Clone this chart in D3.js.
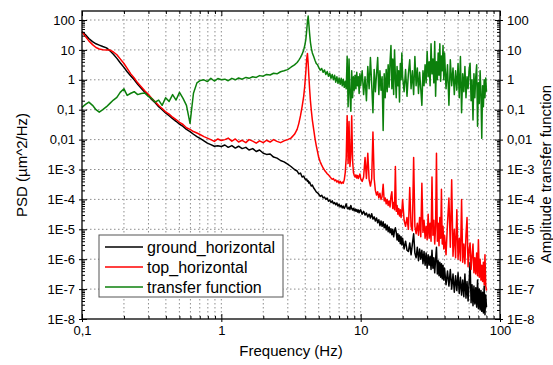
<!DOCTYPE html>
<html>
<head>
<meta charset="utf-8">
<script src="https://cdn.jsdelivr.net/npm/d3@7"></script>
<style>
  body { margin: 0; background: #fff; }
  text { font-family: "Liberation Sans", Arial, sans-serif; }
</style>
</head>
<body>
<svg id="chart" width="553" height="365"></svg>
<script>
// frequency grid (Hz), shared by the three curves
const freq = [
  0.1,0.106,0.112,0.119,0.126,0.133,0.141,0.15,0.158,0.168,
  0.178,0.188,0.2,0.211,0.224,0.237,0.251,0.266,0.282,0.299,
  0.316,0.335,0.355,0.376,0.398,0.422,0.447,0.473,0.501,0.531,
  0.562,0.596,0.631,0.668,0.708,0.75,0.794,0.841,0.891,0.944,
  1.0,
  1.06,1.12,1.19,1.26,1.33,1.41,1.5,1.58,1.68,1.78,
  1.88,2.0,2.11,2.24,2.37,2.51,2.66,2.82,2.99,3.16,
  3.35,3.5,3.6,3.7,3.8,3.9,3.97,4.04,4.1,4.15,
  4.2,4.25,4.3,4.36,4.43,4.5,4.6,4.7,4.8,4.9,
  5,5.125,5.25,5.375,5.5,5.625,5.75,5.875,6,6.125,
  6.25,6.375,6.5,6.625,6.75,6.875,7,7.125,7.25,7.375,
  7.5,7.625,7.75,7.875,8,8.125,8.25,8.375,8.5,8.625,
  8.75,8.875,9,9.125,9.25,9.375,9.5,9.625,9.75,9.875,
  10,10.25,10.5,10.75,11,11.25,11.5,11.75,12,12.25,
  12.5,12.75,13,13.25,13.5,13.75,14,14.25,14.5,14.75,
  15,15.25,15.5,15.75,16,16.25,16.5,16.75,17,17.25,
  17.5,17.75,18,18.25,18.5,18.75,19,19.25,19.5,19.75,
  20,20.5,21,21.5,22,22.5,23,23.5,24,24.5,
  25,25.5,26,26.5,27,27.5,28,28.5,29,29.5,
  30,30.5,31,31.5,32,32.5,33,33.5,34,34.5,
  35,35.5,36,36.5,37,37.5,38,38.5,39,39.5,
  40,41,42,43,44,45,46,47,48,49,
  50,51,52,53,54,55,56,57,58,59,
  60,61,62,63,64,65,66,67,68,69,
  70,71,72,73,74,75,76,77,78,79,
  80
];

// PSD of the ground sensor (µm^2/Hz)
const groundHorizontal = [
  41,32,24,19,16,14.5,13,11.7,9.5,7.2,
  5.2,3.7,2.6,1.86,1.35,1.0,0.71,0.52,0.38,0.3,
  0.22,0.17,0.126,0.1,0.078,0.063,0.05,0.041,0.033,0.0275,
  0.022,0.0186,0.0151,0.0126,0.0107,0.0091,0.0076,0.0068,0.006,0.0062,
  0.0059,
  6.6e-3,5.5e-3,6.3e-3,5.2e-3,6e-3,5e-3,5.5e-3,4.5e-3,5e-3,4e-3,
  4.5e-3,3.5e-3,3.2e-3,3.3e-3,2.6e-3,2.4e-3,2e-3,1.8e-3,1.5e-3,1.26e-3,
  1e-3,8.9e-4,7.1e-4,7.6e-4,5.6e-4,6e-4,5e-4,4.5e-4,4.8e-4,4e-4,
  4.2e-4,3.5e-4,3.8e-4,3.2e-4,2.8e-4,3e-4,2.4e-4,2.1e-4,1.78e-4,1.66e-4,
  1.5e-4,1.26e-4,1.38e-4,1.12e-4,1.2e-4,1e-4,1.1e-4,8.7e-5,9.5e-5,7.9e-5,
  8.9e-5,7.2e-5,7.9e-5,6.6e-5,7.6e-5,6e-5,6.8e-5,5.6e-5,6.3e-5,5.2e-5,
  6e-5,5e-5,5.8e-5,7.1e-5,5.2e-5,4.8e-5,5.5e-5,4.6e-5,6.3e-5,5e-5,
  4.4e-5,5e-5,4.2e-5,4.8e-5,4e-5,4.6e-5,3.8e-5,4.4e-5,3.6e-5,4.2e-5,
  4.5e-5,3.2e-5,4e-5,3e-5,3.5e-5,2.6e-5,3.2e-5,2.4e-5,3.3e-5,2.2e-5,
  2.6e-5,1.9e-5,2.4e-5,1.66e-5,2.1e-5,1.32e-5,1.9e-5,1.26e-5,1.78e-5,1.12e-5,
  1.5e-5,9.5e-6,1.38e-5,8.3e-6,1.2e-5,7.6e-6,1.05e-5,6.6e-6,1e-5,5.6e-6,
  8.9e-6,1.12e-5,7.9e-6,4.4e-6,7.1e-6,4e-6,6.3e-6,3.3e-6,5.6e-6,3e-6,
  5e-6,2.2e-6,4e-6,2e-6,1.8e-6,3.5e-6,1.4e-6,3.2e-6,7.1e-6,1.6e-6,
  1.12e-6,2.5e-6,8.9e-7,2.2e-6,1e-6,2e-6,7.1e-7,1.8e-6,6.3e-7,1.6e-6,
  5e-7,1.4e-6,6.3e-7,1.26e-6,4.5e-7,2e-6,5e-7,1.12e-6,3.5e-7,1e-6,
  2.5e-6,3.2e-7,8.9e-7,2.8e-7,7.9e-7,2.5e-7,7.1e-7,2.2e-7,6.3e-7,2e-7,
  5e-7,1.4e-7,4e-7,1.26e-7,4.5e-7,1e-7,3.2e-7,7.9e-8,2.8e-7,8.9e-8,
  3.5e-7,7.1e-8,2.5e-7,6.3e-8,2e-7,5.6e-8,3.2e-7,5e-8,1.8e-7,4e-8,
  1.6e-7,7.9e-7,3.5e-8,1.4e-7,2.8e-8,1.26e-7,3.2e-8,1.12e-7,2.5e-8,2e-7,
  2.2e-8,1e-7,2e-8,8.9e-8,1.8e-8,7.9e-8,1.6e-8,1.26e-7,1.4e-8,6.3e-8,
  2.5e-8
];

// PSD on top of the structure (µm^2/Hz)
const topHorizontal = [
  40,28,20,15,12,10.7,10.2,10,10,8.5,
  6.9,5.0,3.5,2.4,1.58,1.15,0.79,0.59,0.43,0.33,
  0.24,0.186,0.138,0.11,0.085,0.071,0.056,0.047,0.038,0.032,
  0.025,0.022,0.0186,0.0166,0.0145,0.0126,0.0112,0.01,0.0087,0.0105,
  0.0093,
  1e-2,1.12e-2,8.9e-3,1.05e-2,8.3e-3,9.5e-3,7.9e-3,1e-2,8.9e-3,7.6e-3,
  9.1e-3,7.9e-3,9.5e-3,8.3e-3,1e-2,8.7e-3,7.9e-3,9.1e-3,1e-2,1.12e-2,
  1.5e-2,2.2e-2,3.5e-2,6.3e-2,0.126,0.28,0.63,1.8,5,7.6,
  3.5,1.26,0.5,0.2,8.9e-2,4.5e-2,2.2e-2,1.1e-2,6.3e-3,4e-3,
  2.5e-3,1.8e-3,1.4e-3,1.12e-3,9.5e-4,8.3e-4,7.2e-4,6.6e-4,5.8e-4,5.2e-4,
  4.7e-4,5e-4,4.2e-4,4.5e-4,3.8e-4,4.2e-4,3.5e-4,4e-4,3.4e-4,3.8e-4,
  3.5e-4,4.5e-4,7.9e-4,2.5e-3,6.3e-2,1.6e-3,4e-2,1.26e-3,3.2e-3,6.3e-2,
  2e-3,7.9e-4,6.3e-4,5.6e-4,6.6e-4,5.2e-4,6.3e-4,5e-4,6e-4,7.1e-4,
  5e-4,4e-4,5.6e-4,2.5e-3,5e-4,3.5e-3,4.5e-4,2.8e-4,5e-4,1.8e-2,
  5e-4,2e-4,1.4e-4,1.8e-4,1.12e-4,1.6e-4,1e-4,1.26e-4,3.2e-4,8.9e-5,
  1.12e-4,7.1e-5,1e-4,6.3e-5,8.9e-5,5.6e-5,1.26e-4,1.8e-4,5e-5,7.9e-5,
  4.5e-5,1.26e-3,4e-5,6.3e-5,3.2e-5,5e-5,2.8e-5,4.5e-5,2.5e-5,4e-5,
  1e-4,2e-5,1.26e-5,2.5e-5,1e-5,2.5e-4,1.26e-5,8.9e-6,2.5e-3,1.26e-5,
  7.1e-6,1.6e-5,6.3e-6,2.5e-5,5.6e-6,3.5e-4,7.9e-6,2e-5,5e-6,1.26e-5,
  4.5e-6,3.2e-5,5e-6,1.6e-5,4e-6,5.6e-4,6.3e-6,2e-5,3.2e-6,1.26e-5,
  3.5e-3,4e-6,1.6e-5,2.8e-6,2.5e-5,5e-6,2.2e-4,3.2e-6,1.26e-5,2.2e-6,
  6.3e-6,1.4e-6,1.6e-5,1.12e-4,2.5e-6,4.5e-4,1.26e-6,1e-5,1.12e-6,4.5e-5,
  1e-6,5e-6,8.9e-7,1e-4,7.9e-7,3.2e-6,7.1e-7,6.3e-6,2.5e-5,5.6e-7,
  2e-6,3.5e-6,4.5e-7,1.26e-6,3.2e-6,3.5e-7,1.12e-6,3.2e-7,1.6e-6,2.8e-7,
  4.5e-6,2.5e-7,1e-6,2e-7,6.3e-7,1.8e-7,7.9e-7,1.4e-7,1.4e-6,1.26e-7,
  8.9e-8
];

// amplitude transfer function top / ground (right axis)
const transferFunction = [
  0.12,0.15,0.18,0.14,0.1,0.083,0.1,0.126,0.16,0.21,
  0.26,0.38,0.5,0.3,0.355,0.4,0.32,0.35,0.36,0.28,
  0.24,0.178,0.21,0.14,0.25,0.19,0.32,0.21,0.38,0.24,
  0.14,0.035,0.355,0.79,0.95,1.0,0.87,1.12,0.91,1.1,
  1.0,
  1.05,0.93,1.12,1.0,1.15,1.05,1.2,1.12,1.26,1.2,
  1.38,1.32,1.51,1.45,1.66,1.58,1.86,2.0,2.19,2.63,
  3.16,3.8,4.57,5.6,7.2,10,14,22,45,89,
  135,71,35,18,11,7.9,6,4.5,3.5,3.2,
  2.6,2.1,2.4,1.78,2.14,1.51,1.9,1.32,1.66,1.12,
  1.51,1.0,1.41,0.83,1.26,0.76,1.15,0.71,1.12,0.63,
  1.05,0.56,0.89,0.5,6,0.126,5,0.32,0.089,2,
  0.25,1.26,0.45,1.41,0.5,1.78,0.63,1.26,0.35,1.58,
  0.63,2,0.32,1.26,0.2,2.8,0.5,5.6,0.71,0.079,
  2.2,0.4,1.58,5.6,0.32,2,0.45,1.26,0.02,1.58,
  0.25,2.2,0.4,3.2,0.56,4,14,0.5,5,0.32,
  10,1.26,0.25,2.8,0.63,2,0.18,3.5,1,7.9,
  1.26,0.4,2.2,0.28,1.58,4.7,0.5,2,0.32,6,
  0.63,2.5,0.35,1.78,0.5,0.14,2,0.63,3.2,0.79,
  8.9,1.26,4,0.63,16,1.58,5,0.79,19,0.28,
  4,1,7.9,1.41,16,0.89,6.3,2,14,1,
  7.9,0.5,3.2,0.14,4.7,0.63,2.5,0.32,2,0.45,
  3.5,0.25,6,0.079,1.58,0.4,2.8,0.25,1.26,0.5,
  2.2,3.6,0.2,1,0.045,1.58,0.25,1.26,3.2,0.028,
  0.79,0.16,2,0.32,0.011,0.63,0.126,1,0.25,1.15,
  0.4
];

const xTicks = [0.1, 1, 10, 100];
const xLabels = ['0,1', '1', '10', '100'];
const yTicks = [1e-8, 1e-7, 1e-6, 1e-5, 1e-4, 1e-3, 0.01, 0.1, 1, 10, 100];
const yLabels = ['1E-8', '1E-7', '1E-6', '1E-5', '1E-4', '1E-3', '0,01', '0,1', '1', '10', '100'];
const seriesNames = ['ground_horizontal', 'top_horizontal', 'transfer function'];
const seriesColors = ['#000000', '#ff0000', '#0c800c'];

const W = 553, H = 365;
const left = 82, right = 500, top0 = 11, bottom = 319;

const svg = d3.select('#chart');

const x = d3.scaleLog().domain([0.1, 100]).range([left, right]);
const y = d3.scaleLog().domain([1e-8, 200]).range([bottom, top0]);

const isDecade = d => Math.abs(Math.log10(d) - Math.round(Math.log10(d))) < 1e-6;
const xMinor = x.ticks().filter(d => !isDecade(d));
const yMinor = y.ticks(40).filter(d => !isDecade(d) && d < 100);

// dotted grid
const grid = svg.append('g')
  .attr('stroke', '#808080')
  .attr('stroke-width', 0.9)
  .attr('stroke-dasharray', '1.5,2.5');

grid.selectAll('line.v')
  .data(x.ticks().filter(d => d > 0.1 && d < 100))
  .join('line')
  .attr('class', 'v')
  .attr('x1', d => x(d)).attr('x2', d => x(d))
  .attr('y1', top0).attr('y2', bottom);

grid.selectAll('line.h')
  .data(yTicks.filter(d => d > 1e-8))
  .join('line')
  .attr('class', 'h')
  .attr('x1', left).attr('x2', right)
  .attr('y1', d => y(d)).attr('y2', d => y(d));

// curves
const line = d3.line()
  .x((d, i) => x(freq[i]))
  .y(d => y(d));

[groundHorizontal, topHorizontal, transferFunction].forEach((s, k) => {
  svg.append('path')
    .datum(s)
    .attr('fill', 'none')
    .attr('stroke', seriesColors[k])
    .attr('stroke-width', 1.5)
    .attr('stroke-linejoin', 'round')
    .attr('d', line);
});

// axes
function styleAxis(g) {
  g.select('.domain').remove();
  g.selectAll('line').attr('stroke', '#000').attr('stroke-width', 1);
  g.selectAll('text')
    .attr('fill', '#000')
    .attr('font-size', 13)
    .attr('font-family', '"Liberation Sans", Arial, sans-serif');
}

// left
svg.append('g').attr('transform', `translate(${left},0)`)
  .call(d3.axisLeft(y).tickValues(yTicks).tickFormat((d, i) => yLabels[i]).tickSize(3).tickPadding(4))
  .call(styleAxis);
svg.append('g').attr('transform', `translate(${left},0)`)
  .call(d3.axisLeft(y).tickValues(yTicks).tickFormat('').tickSize(-5))
  .call(styleAxis);
svg.append('g').attr('transform', `translate(${left},0)`)
  .call(d3.axisLeft(y).tickValues(yMinor).tickFormat('').tickSize(-3))
  .call(styleAxis);

// right
svg.append('g').attr('transform', `translate(${right},0)`)
  .call(d3.axisRight(y).tickValues(yTicks).tickFormat((d, i) => yLabels[i]).tickSize(3).tickPadding(4))
  .call(styleAxis);
svg.append('g').attr('transform', `translate(${right},0)`)
  .call(d3.axisRight(y).tickValues(yTicks).tickFormat('').tickSize(-5))
  .call(styleAxis);
svg.append('g').attr('transform', `translate(${right},0)`)
  .call(d3.axisRight(y).tickValues(yMinor).tickFormat('').tickSize(-3))
  .call(styleAxis);

// bottom
svg.append('g').attr('transform', `translate(0,${bottom})`)
  .call(d3.axisBottom(x).tickValues(xTicks).tickFormat((d, i) => xLabels[i]).tickSize(3).tickPadding(4))
  .call(styleAxis);
svg.append('g').attr('transform', `translate(0,${bottom})`)
  .call(d3.axisBottom(x).tickValues(xTicks).tickFormat('').tickSize(-5))
  .call(styleAxis);
svg.append('g').attr('transform', `translate(0,${bottom})`)
  .call(d3.axisBottom(x).tickValues(xMinor).tickFormat('').tickSize(-3))
  .call(styleAxis);

// top
svg.append('g').attr('transform', `translate(0,${top0})`)
  .call(d3.axisTop(x).tickValues(xTicks).tickFormat('').tickSize(-5))
  .call(styleAxis);
svg.append('g').attr('transform', `translate(0,${top0})`)
  .call(d3.axisTop(x).tickValues(xMinor).tickFormat('').tickSize(-3))
  .call(styleAxis);

// frame
svg.append('rect')
  .attr('x', left).attr('y', top0)
  .attr('width', right - left).attr('height', bottom - top0)
  .attr('fill', 'none').attr('stroke', '#000').attr('stroke-width', 1.3);

// axis titles
svg.append('text')
  .attr('x', (left + right) / 2).attr('y', 356)
  .attr('text-anchor', 'middle').attr('font-size', 15)
  .text('Frequency (Hz)');

svg.append('text')
  .attr('transform', 'translate(21,165) rotate(-90)')
  .attr('text-anchor', 'middle').attr('dominant-baseline', 'central').attr('font-size', 15)
  .text('PSD (µm^2/Hz)');

svg.append('text')
  .attr('transform', 'translate(545,174) rotate(-90)')
  .attr('text-anchor', 'middle').attr('dominant-baseline', 'central').attr('font-size', 15)
  .text('Amplitude transfer function');

// legend
const legend = svg.append('g');
legend.append('rect')
  .attr('x', 99).attr('y', 235).attr('width', 184).attr('height', 62)
  .attr('fill', '#fff').attr('stroke', '#555').attr('stroke-width', 1);

seriesNames.forEach((name, i) => {
  const yy = 247 + i * 20;
  legend.append('line')
    .attr('x1', 105).attr('x2', 143).attr('y1', yy).attr('y2', yy)
    .attr('stroke', seriesColors[i]).attr('stroke-width', 1.5);
  legend.append('text')
    .attr('x', 147).attr('y', yy)
    .attr('dominant-baseline', 'central').attr('font-size', 16)
    .text(name);
});
</script>
</body>
</html>
